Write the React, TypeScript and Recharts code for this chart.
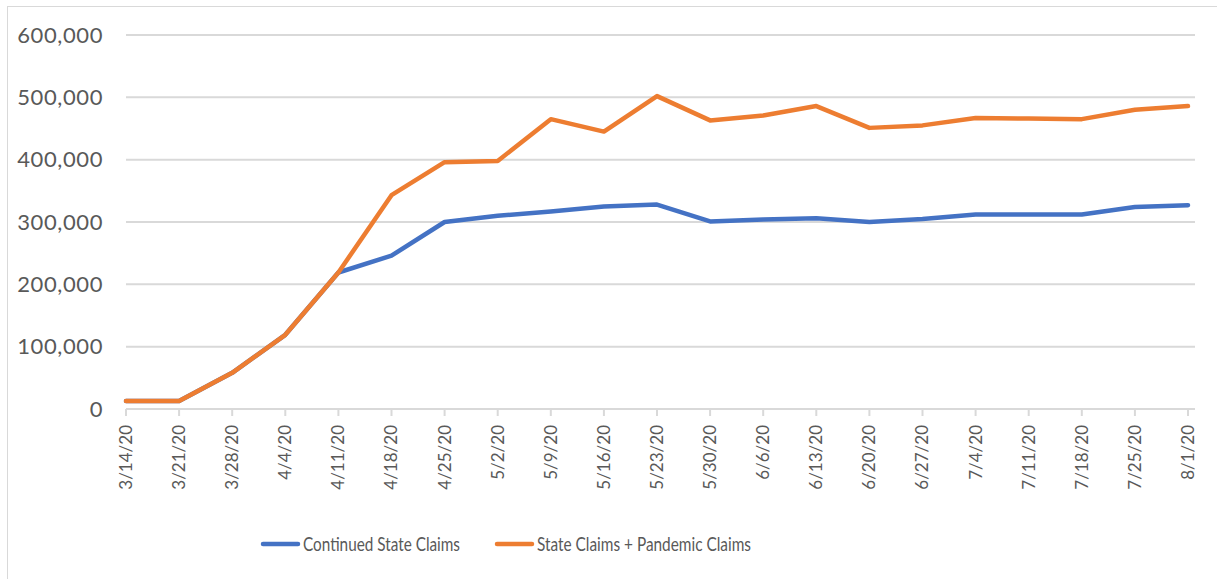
import React from 'react';
import { LineChart, Line, XAxis, YAxis, CartesianGrid, Legend } from 'recharts';

const weeks = [
  '3/14/20', '3/21/20', '3/28/20', '4/4/20', '4/11/20', '4/18/20', '4/25/20',
  '5/2/20', '5/9/20', '5/16/20', '5/23/20', '5/30/20', '6/6/20', '6/13/20',
  '6/20/20', '6/27/20', '7/4/20', '7/11/20', '7/18/20', '7/25/20', '8/1/20',
];

const continuedStateClaims = [
  13000, 13000, 58000, 119000, 219000, 246000, 300000,
  310000, 317000, 325000, 328000, 301000, 304000, 306000,
  300000, 305000, 312000, 312000, 312000, 324000, 327000,
];

const statePlusPandemic = [
  13000, 13000, 58000, 119000, 219000, 343000, 396000,
  398000, 465000, 445000, 502000, 463000, 471000, 486000,
  451000, 455000, 467000, 466000, 465000, 480000, 486000,
];

const yTicks = [0, 100000, 200000, 300000, 400000, 500000, 600000];

const data = weeks.map((week, i) => ({
  week,
  continued: continuedStateClaims[i],
  combined: statePlusPandemic[i],
}));

const FONT = 'Lato, "Open Sans", sans-serif';
const TEXT = '#595959';
const GRID = '#d9d9d9';

function WeekTick(props: any) {
  const { x, y, payload } = props;
  return (
    <g transform={`translate(${x},${y})`}>
      <text
        transform="rotate(-90)"
        textAnchor="end"
        dy="0.35em"
        fill={TEXT}
        fontSize={17}
        fontFamily={FONT}
      >
        {payload.value}
      </text>
    </g>
  );
}

// legend drawn as svg so the condensed Calibri-ish text width can be matched
function ClaimsLegend() {
  const items = [
    { label: 'Continued State Claims', color: '#4472C4', x: 0, len: 157 },
    { label: 'State Claims + Pandemic Claims', color: '#ED7D31', x: 234, len: 214 },
  ];
  return (
    <svg width={620} height={30} style={{ display: 'block', overflow: 'visible' }}>
      {items.map((it) => (
        <g key={it.label}>
          <line
            x1={it.x + 2}
            x2={it.x + 37}
            y1={15}
            y2={15}
            stroke={it.color}
            strokeWidth={4.5}
            strokeLinecap="round"
          />
          <text
            x={it.x + 42}
            y={15}
            dy="0.36em"
            fill={TEXT}
            fontSize={20}
            fontFamily={FONT}
            textLength={it.len}
            lengthAdjust="spacingAndGlyphs"
          >
            {it.label}
          </text>
        </g>
      ))}
    </svg>
  );
}

export default function App() {
  return (
    <div style={{ position: 'absolute', left: 0, top: 0, width: 1217, height: 579, overflow: 'hidden', background: '#fff' }}>
      <div
        style={{
          position: 'absolute',
          left: 7,
          top: 6,
          width: 1215,
          height: 600,
          border: `1px solid ${GRID}`,
          boxSizing: 'border-box',
        }}
      />
      <div style={{ position: 'absolute', left: 0, top: 0 }}>
        <LineChart
          width={1217}
          height={579}
          data={data}
          margin={{ top: 35, right: 22, bottom: 70, left: 0 }}
        >
          <CartesianGrid vertical={false} stroke={GRID} strokeWidth={2} />
          <XAxis
            dataKey="week"
            interval={0}
            height={100}
            padding={{ left: 0, right: 7 }}
            axisLine={{ stroke: GRID, strokeWidth: 2 }}
            tickLine={{ stroke: GRID, strokeWidth: 2 }}
            tickSize={7}
            tickMargin={9}
            tick={<WeekTick />}
          />
          <YAxis
            width={126}
            domain={[0, 600000]}
            ticks={yTicks}
            axisLine={false}
            tickLine={false}
            tickSize={0}
            tickMargin={23}
            tickFormatter={(v: number) => v.toLocaleString('en-US')}
            tick={{ fill: TEXT, fontSize: 22, fontFamily: FONT, letterSpacing: 0.6 }}
          />
          <Legend
            verticalAlign="middle"
            layout="horizontal"
            content={<ClaimsLegend />}
            wrapperStyle={{ left: 261, top: 529, width: 620 }}
          />
          <Line
            type="linear"
            dataKey="continued"
            name="Continued State Claims"
            stroke="#4472C4"
            strokeWidth={4.5}
            strokeLinecap="round"
            strokeLinejoin="round"
            dot={false}
            isAnimationActive={false}
          />
          <Line
            type="linear"
            dataKey="combined"
            name="State Claims + Pandemic Claims"
            stroke="#ED7D31"
            strokeWidth={4.5}
            strokeLinecap="round"
            strokeLinejoin="round"
            dot={false}
            isAnimationActive={false}
          />
        </LineChart>
      </div>
    </div>
  );
}
